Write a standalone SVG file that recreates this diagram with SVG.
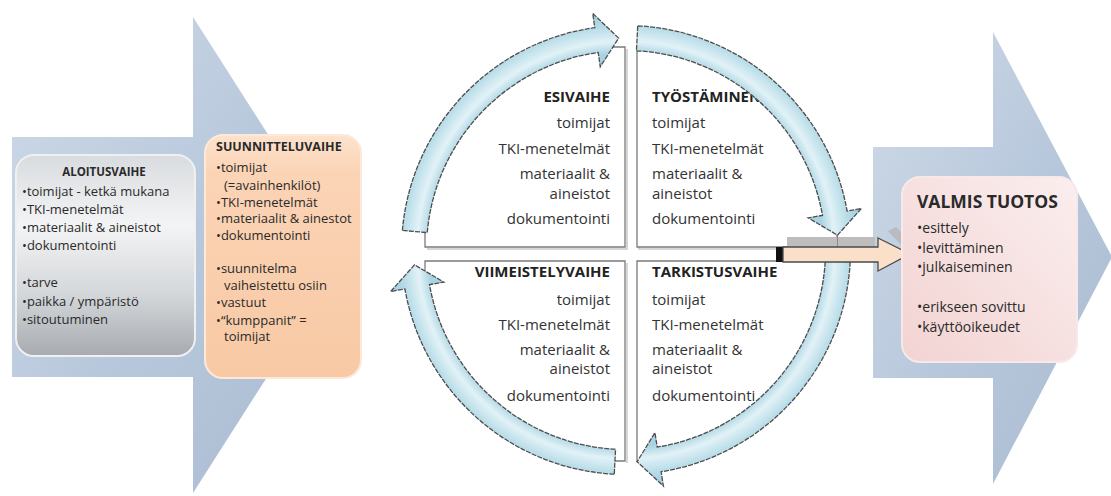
<svg xmlns="http://www.w3.org/2000/svg" width="1111" height="496" viewBox="0 0 1111 496">
<style>
.t{font-family:"Open Sans","Liberation Sans",sans-serif;fill:#2a2a2a}
.sm{font-size:13px}
.pn{font-size:15px;fill:#333}
.pt{font-size:15px;font-weight:bold;fill:#222}
.panel{fill:#fff;stroke:#7a7a7a;stroke-width:1.3}
.pshadow{fill:none;stroke:#c8c8c8;stroke-width:1.5}
.ring{fill:url(#ringGrad);stroke:#4d4d4d;stroke-width:1.3;stroke-linejoin:miter;stroke-dasharray:5 1.2}
</style>
<defs>
<linearGradient id="bigGrad" x1="0" y1="0" x2="1" y2="1">
<stop offset="0" stop-color="#cfdae7"/>
<stop offset="0.5" stop-color="#b8c8dc"/>
<stop offset="1" stop-color="#a9bbd2"/>
</linearGradient>
<linearGradient id="grayGrad" x1="0" y1="0" x2="0" y2="1">
<stop offset="0" stop-color="#d9dcdf"/>
<stop offset="0.35" stop-color="#f3f4f5"/>
<stop offset="0.7" stop-color="#d3d6d9"/>
<stop offset="1" stop-color="#a7abb0"/>
</linearGradient>
<linearGradient id="orGrad" x1="0" y1="0" x2="0" y2="1">
<stop offset="0" stop-color="#fde2cc"/>
<stop offset="0.15" stop-color="#fbd4b6"/>
<stop offset="1" stop-color="#f8c9a4"/>
</linearGradient>
<linearGradient id="pinkGrad" x1="1" y1="0" x2="0" y2="1">
<stop offset="0" stop-color="#fbeeee"/>
<stop offset="1" stop-color="#f2d3d2"/>
</linearGradient>
<radialGradient id="ringGrad" gradientUnits="userSpaceOnUse" cx="626" cy="250" r="240">
<stop offset="0.82" stop-color="#a8d3e2"/>
<stop offset="0.87" stop-color="#e2f2f7"/>
<stop offset="0.935" stop-color="#b5dbe7"/>
<stop offset="1" stop-color="#9ccbdc"/>
</radialGradient>
</defs>
<rect width="1111" height="496" fill="#fff"/>

<g id="left-arrow">
<path d="M12,137 L193,137 L193,17 L345,255 L193,493 L193,377 L12,377 Z" fill="url(#bigGrad)"/>
</g>
<g id="right-arrow">
<path d="M873,147 L993,147 L993,32 L1112,257 L993,484 L993,378 L873,378 Z" fill="url(#bigGrad)"/>
</g>

<g id="aloitusvaihe">
<rect x="16" y="155" width="179" height="201" rx="18" fill="url(#grayGrad)" stroke="#eef0f2" stroke-width="2"/>
<text class="t" x="104" y="176" text-anchor="middle" font-size="11.5" font-weight="bold">ALOITUSVAIHE</text>
<text class="t sm" x="22" y="196">•toimijat - ketkä mukana</text>
<text class="t sm" x="22" y="214">•TKI-menetelmät</text>
<text class="t sm" x="22" y="232">•materiaalit &amp; aineistot</text>
<text class="t sm" x="22" y="250">•dokumentointi</text>
<text class="t sm" x="22" y="287">•tarve</text>
<text class="t sm" x="22" y="306">•paikka / ympäristö</text>
<text class="t sm" x="22" y="324">•sitoutuminen</text>
</g>

<g id="suunnitteluvaihe">
<rect x="205" y="135" width="156" height="243" rx="18" fill="url(#orGrad)" stroke="#fde9d9" stroke-width="2"/>
<text class="t" x="216" y="151" font-size="12.5" font-weight="bold">SUUNNITTELUVAIHE</text>
<text class="t sm" x="216" y="172">•toimijat</text>
<text class="t sm" x="224" y="190">(=avainhenkilöt)</text>
<text class="t sm" x="216" y="207">•TKI-menetelmät</text>
<text class="t sm" x="216" y="223">•materiaalit &amp; ainestot</text>
<text class="t sm" x="216" y="240">•dokumentointi</text>
<text class="t sm" x="216" y="273">•suunnitelma</text>
<text class="t sm" x="224" y="290">vaiheistettu osiin</text>
<text class="t sm" x="216" y="307">•vastuut</text>
<text class="t sm" x="216" y="325">•“kumppanit” =</text>
<text class="t sm" x="224" y="341">toimijat</text>
</g>

<g id="esivaihe">
<path class="pshadow" d="M427,249 L627,249 L627,49"/>
<path class="panel" d="M425,247 L625,247 L625,47 L565,47 A212,212 0 0 0 425,182.6 Z"/>
<text class="t pt" x="610" y="102" text-anchor="end">ESIVAIHE</text>
<text class="t pn" x="610" y="128" text-anchor="end">toimijat</text>
<text class="t pn" x="610" y="154" text-anchor="end">TKI-menetelmät</text>
<text class="t pn" x="610" y="179" text-anchor="end">materiaalit &amp;</text>
<text class="t pn" x="610" y="199" text-anchor="end">aineistot</text>
<text class="t pn" x="610" y="224" text-anchor="end">dokumentointi</text>
</g>

<g id="tyostaminen">
<path class="pshadow" d="M639,49 L639,249 L839,249"/>
<path class="panel" d="M637,247 L637,47 L687,47 A212,212 0 0 1 837,229.4 L837,247 Z"/>
<text class="t pt" x="652" y="102">TYÖSTÄMINEN</text>
<text class="t pn" x="652" y="128">toimijat</text>
<text class="t pn" x="652" y="154">TKI-menetelmät</text>
<text class="t pn" x="652" y="179">materiaalit &amp;</text>
<text class="t pn" x="652" y="199">aineistot</text>
<text class="t pn" x="652" y="224">dokumentointi</text>
</g>

<g id="viimeistelyvaihe">
<path class="pshadow" d="M627,263 L627,463"/>
<path class="panel" d="M625,261 L425,261 L425,317.4 A212,212 0 0 0 605.4,461 L625,461 Z"/>
<text class="t pt" x="610" y="277" text-anchor="end">VIIMEISTELYVAIHE</text>
<text class="t pn" x="610" y="305" text-anchor="end">toimijat</text>
<text class="t pn" x="610" y="330" text-anchor="end">TKI-menetelmät</text>
<text class="t pn" x="610" y="355" text-anchor="end">materiaalit &amp;</text>
<text class="t pn" x="610" y="374" text-anchor="end">aineistot</text>
<text class="t pn" x="610" y="401" text-anchor="end">dokumentointi</text>
</g>

<g id="tarkistusvaihe">
<path class="pshadow" d="M639,263 L839,263"/>
<path class="panel" d="M637,261 L837,261 L837,270.6 A212,212 0 0 1 637,461.7 Z"/>
<text class="t pt" x="652" y="277">TARKISTUSVAIHE</text>
<text class="t pn" x="652" y="305">toimijat</text>
<text class="t pn" x="652" y="330">TKI-menetelmät</text>
<text class="t pn" x="652" y="355">materiaalit &amp;</text>
<text class="t pn" x="652" y="374">aineistot</text>
<text class="t pn" x="652" y="401">dokumentointi</text>
</g>

<g id="connectors">
<path class="ring" d="M402.36,230.43 A224.5,224.5 0 0 1 594.76,27.68 L592.74,13.33 L618.60,38.13 L600.25,66.80 L598.24,52.44 A199.5,199.5 0 0 0 427.26,232.61 Z"/>
<path class="ring" d="M637.75,25.81 A224.5,224.5 0 0 1 847.09,211.02 L861.37,208.50 L837.48,235.21 L808.19,217.87 L822.47,215.36 A199.5,199.5 0 0 0 636.44,50.77 Z"/>
<path class="ring" d="M850.19,261.75 A224.5,224.5 0 0 1 661.12,471.74 L663.39,486.06 L637.10,461.71 L654.94,432.72 L657.21,447.04 A199.5,199.5 0 0 0 825.23,260.44 Z"/>
<path class="ring" d="M614.25,474.19 A224.5,224.5 0 0 1 404.91,288.98 L390.63,291.50 L414.52,264.79 L443.81,282.13 L429.53,284.64 A199.5,199.5 0 0 0 615.56,449.23 Z"/>
<rect x="787" y="237" width="88" height="10" fill="#bdbdbd"/>
<line x1="837.5" y1="236" x2="837.5" y2="247" stroke="#8a8a8a" stroke-width="1"/>
<path d="M888,231 L896,227 L915,245 L906,250 Z" fill="#b4b4b4" opacity="0.7"/>
<rect x="776" y="247" width="7" height="15" fill="#111"/>
<path d="M783,247 L878,247 L878,238 L910,254 L878,271 L878,262 L783,262 Z" fill="#fbe0c9" stroke="#4a4a4a" stroke-width="1.3"/>
</g>

<g id="valmis-tuotos">
<rect x="902" y="177" width="175" height="185" rx="18" fill="url(#pinkGrad)" stroke="#f8e8e8" stroke-width="2"/>
<text class="t" x="917" y="208" font-size="17.5" font-weight="bold" fill="#1e1e1e">VALMIS TUOTOS</text>
<text class="t" x="917" y="233" font-size="14">•esittely</text>
<text class="t" x="917" y="253" font-size="14">•levittäminen</text>
<text class="t" x="917" y="272" font-size="14">•julkaiseminen</text>
<text class="t" x="917" y="312" font-size="14">•erikseen sovittu</text>
<text class="t" x="917" y="332" font-size="14">•käyttöoikeudet</text>
</g>
</svg>
